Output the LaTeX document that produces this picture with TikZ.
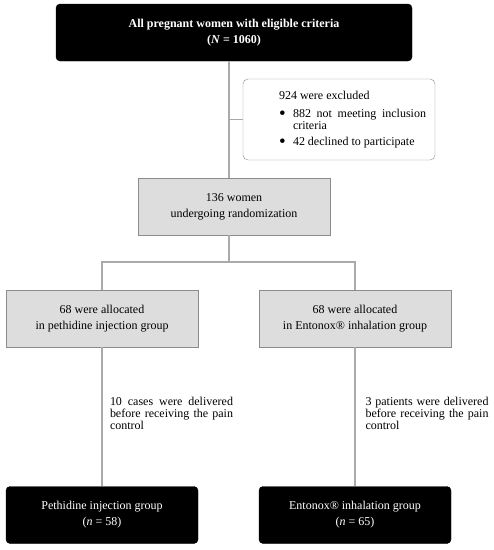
\documentclass[tikz,border=0pt]{standalone}
\usepackage{fontspec}
\setmainfont{Liberation Serif}
\definecolor{boxgrey}{RGB}{221,221,221}
\definecolor{boxline}{RGB}{140,140,140}
\definecolor{linegrey}{RGB}{170,170,170}
\hyphenpenalty=10000
\tolerance=9999
\newcommand{\bigdot}{\makebox[14pt][l]{\raisebox{-2.6pt}{\fontsize{19}{12}\selectfont\textbullet}}}
\begin{document}
\begin{tikzpicture}[x=1pt, y=-1pt,
  font=\fontsize{12}{16}\selectfont,
  blackbox/.style={draw=black, fill=black, text=white, rounded corners=4pt, align=center, minimum height=57pt, inner sep=0pt},
  greybox/.style={draw=boxline, fill=boxgrey, align=center, minimum width=192pt, minimum height=57pt, inner sep=0pt},
  note/.style={align=justify, text width=123pt, inner sep=0pt, font=\fontsize{12}{12}\selectfont},
  line/.style={draw=linegrey, line width=1.2pt}]
\useasboundingbox (0,0) rectangle (494,550);
\node[blackbox, minimum width=356pt, font=\fontsize{12}{16}\selectfont\bfseries] (all) at (234,32.5) {All pregnant women with eligible criteria\\(\textit{N} = 1060)};
\node[draw=boxline, fill=white, rounded corners=5pt, minimum width=192pt, minimum height=81pt, text width=174pt, inner xsep=9pt, inner ysep=0pt, align=justify, font=\fontsize{12}{12}\selectfont] (excl) at (339,119.5) {\parindent=0pt\leftskip=27pt\relax
924 were excluded\par\vspace{6pt}
\hangindent=14pt\hangafter=1\noindent\bigdot 882 not meeting inclusion criteria\par\vspace{4pt}
\hangindent=14pt\hangafter=1\noindent\bigdot 42 declined to participate\par};
\node[greybox] (rand) at (234,206.5) {136 women\\undergoing randomization};
\node[greybox] (pethidine) at (102,318.5) {68 were allocated\\in pethidine injection group};
\node[greybox] (entonox) at (355,318.5) {68 were allocated\\in Entonox® inhalation group};
\node[note] (pethnote) at (171.5,413) {10 cases were delivered before receiving the pain control};
\node[note] (entnote) at (427,413) {3 patients were delivered before receiving the pain control};
\node[blackbox, minimum width=192pt] (pethout) at (102,515) {Pethidine injection group\\(\textit{n} = 58)};
\node[blackbox, minimum width=192pt] (entout) at (355,515) {Entonox® inhalation group\\(\textit{n} = 65)};
\coordinate (trunk) at (229,0);
\coordinate (split) at (229,262);
\draw[line] (all.south -| trunk) -- (rand.north -| trunk);
\draw[line] (excl.west) -- (excl.west -| trunk);
\draw[line] (rand.south -| trunk) -- (split);
\draw[line] (pethidine.north) |- (split) -| (entonox.north);
\draw[line] (pethidine.south) -- (pethout.north);
\draw[line] (entonox.south) -- (entout.north);
\end{tikzpicture}
\end{document}
